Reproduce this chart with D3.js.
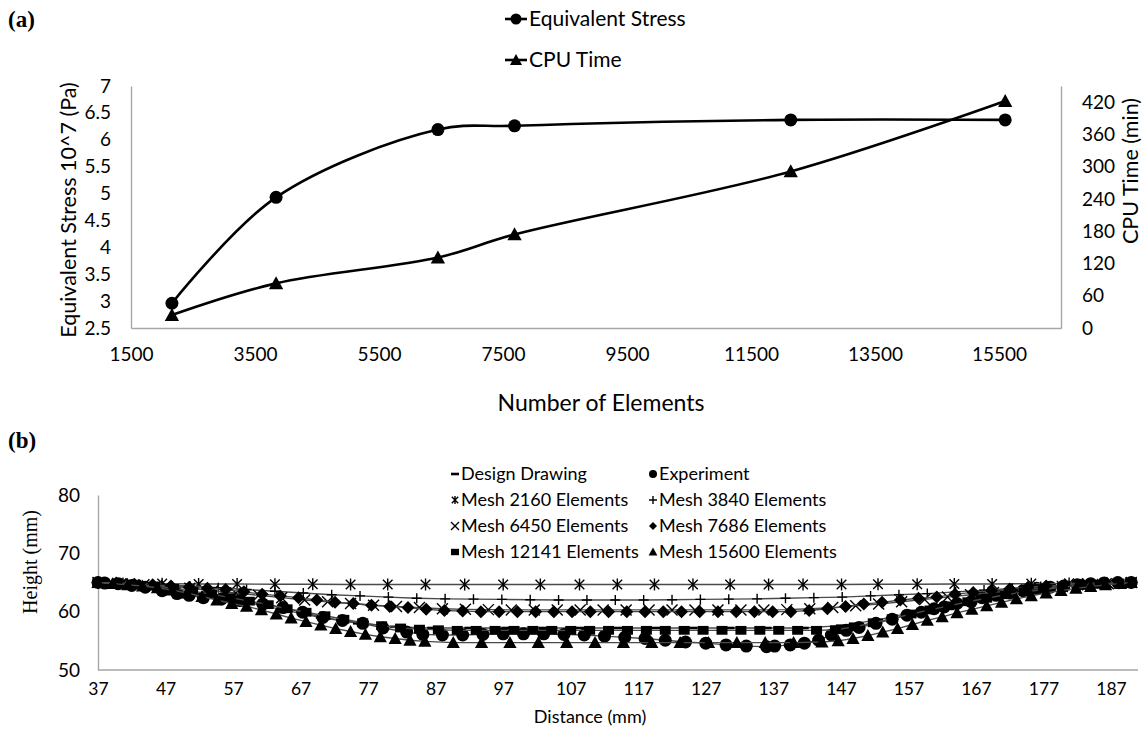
<!DOCTYPE html>
<html>
<head>
<meta charset="utf-8">
<script src="https://cdn.jsdelivr.net/npm/d3@7"></script>
<style>
  body { margin: 0; background: #fff; }
  svg text { font-family: Lato, "Open Sans", sans-serif; fill: #000; }
</style>
</head>
<body>
<svg id="chart" width="1143" height="732"></svg>
<script>
// ---------- Panel (a): mesh convergence ----------
const elements = [2160, 3840, 6450, 7686, 12141, 15600];
const stress = [2.96, 4.93, 6.19, 6.26, 6.37, 6.37];      // x 10^7 Pa
const cpuTime = [24, 83, 131, 174, 291, 422];             // minutes
const stressTicks = [2.5, 3, 3.5, 4, 4.5, 5, 5.5, 6, 6.5, 7];
const cpuTicks = [0, 60, 120, 180, 240, 300, 360, 420];
const elementTicks = [1500, 3500, 5500, 7500, 9500, 11500, 13500, 15500];

// ---------- Panel (b): height profiles along the part ----------
const distanceTicks = [37, 47, 57, 67, 77, 87, 97, 107, 117, 127, 137, 147, 157, 167, 177, 187];
const heightTicks = [50, 60, 70, 80];

const designDrawing = [[37,65],[42.5,64.6],[48,63.8],[53.5,62.8],[59,61.6],[64.5,60.3],[70,59],[75.5,58],[81,57.4],[86.5,57.2],[92,57.2],[97.5,57.2],[103,57.2],[108.5,57.2],[114,57.2],[119.5,57.2],[125,57.2],[130.5,57.2],[136,57.2],[141.5,57.2],[147,57.6],[152.5,58.6],[158,60],[163.5,61.3],[169,62.5],[174.5,63.5],[180,64.2],[185.5,64.7],[190,65]];

const experiment = [[37,65],[38,64.9],[40,64.8],[42,64.5],[44,64.2],[46.5,63.6],[48.7,63.1],[50.5,62.8],[52.6,62.4],[55.3,62.2],[58,61.9],[61.4,61.3],[64.4,60.7],[67.3,59.9],[70.3,59],[73.2,58.5],[76.2,58],[79.2,57.2],[82.7,56.5],[85.1,56.1],[88,56],[91,56],[94,56.1],[97,56.2],[100,56.2],[103,56.2],[106,56.1],[109,56],[112,55.8],[115,55.6],[118,55.4],[121,55.1],[124,54.8],[127,54.6],[130,54.3],[133,54.1],[136,54],[137.2,54.1],[139.5,54.3],[141.6,54.6],[143.7,55.1],[145.6,56],[147.8,56.8],[149.7,57.3],[152.2,58],[154.6,58.7],[156.8,59.4],[158.9,59.9],[160.8,60.5],[162.3,60.8],[164.2,61.4],[166.3,61.7],[167.9,62.4],[170,62.8],[172,63.2],[174,63.6],[176,64],[178,64.2],[180,64.4],[182,64.6],[184,64.8],[186,64.9],[188,65],[190,65]];

const mesh2160 = [[37,65],[40.7,64.85],[46.5,64.8],[51.9,64.75],[57.6,64.75],[63.2,64.7],[68.8,64.7],[74.4,64.65],[79.9,64.65],[85.5,64.65],[91.3,64.65],[97,64.65],[102.5,64.65],[108.3,64.65],[113.9,64.65],[119.4,64.65],[125.1,64.65],[130.6,64.65],[136.3,64.65],[141.4,64.65],[147.1,64.65],[152.5,64.7],[158.3,64.7],[163.8,64.75],[169.4,64.75],[175.2,64.8],[180.8,64.85],[186.4,64.9],[190,65]];

const mesh3840 = [[37,65],[42.2,64.8],[46.4,64.6],[50.6,64.4],[54.8,64.1],[59,63.8],[63.2,63.5],[67.4,63.2],[71.6,62.9],[75.8,62.7],[80,62.5],[84.2,62.3],[88.4,62.2],[92.6,62.15],[96.8,62.1],[101,62.05],[105.2,62],[109.4,62],[113.6,62],[117.8,62],[122,62.05],[126.2,62.1],[130.4,62.15],[134.6,62.2],[138.8,62.3],[143,62.4],[147.2,62.5],[151.4,62.7],[155.6,62.9],[159.8,63.1],[164,63.4],[168.2,63.7],[172.4,64],[176.6,64.3],[180.8,64.5],[185,64.8],[189.2,65]];

const mesh6450 = [[37,65],[40.4,64.8],[43.8,64.6],[47.2,64.3],[50.6,64],[54,63.6],[57.4,63.2],[60.8,62.8],[64.2,62.4],[67.6,62],[71,61.7],[74.4,61.4],[77.8,61.1],[81.2,60.9],[84.6,60.7],[88,60.5],[91.4,60.4],[94.8,60.35],[98.2,60.3],[101.6,60.3],[105,60.3],[108.4,60.3],[111.8,60.3],[115.2,60.3],[118.6,60.3],[122,60.3],[125.4,60.3],[128.8,60.3],[132.2,60.3],[135.6,60.3],[139,60.35],[142.4,60.5],[145.8,60.7],[149.2,61],[152.6,61.3],[156,61.7],[159.4,62.1],[162.8,62.5],[166.2,62.9],[169.6,63.3],[173,63.7],[176.4,64],[179.8,64.3],[183.2,64.6],[186.6,64.8],[190,65]];

const mesh7686 = [[37,65],[39.7,64.9],[42.4,64.7],[45.1,64.6],[47.8,64.4],[50.5,64.2],[53.2,64],[55.9,63.8],[58.6,63.4],[61.3,63],[64,62.7],[66.7,62.4],[69.4,62],[72.1,61.6],[74.8,61.4],[77.5,61.1],[80.2,60.9],[82.9,60.7],[85.6,60.4],[88.3,60.2],[91,60.1],[93.7,60],[96.4,60],[99.1,60],[101.8,60],[104.5,60],[107.2,60],[109.9,60],[112.6,60],[115.3,60],[118,60],[120.7,60],[123.4,60],[126.1,60],[128.8,60],[131.5,60],[134.2,60],[136.9,60],[139.6,60],[142.3,60.2],[145,60.5],[147.7,60.9],[150.4,61.3],[153.1,61.6],[155.8,62],[158.5,62.3],[161.2,62.5],[163.9,63],[166.6,63.3],[169.3,63.6],[172,63.9],[174.7,64.2],[177.4,64.4],[180.1,64.5],[182.8,64.7],[185.5,64.8],[188.2,64.9],[190,65]];

const mesh12141 = [[37,65],[39.8,64.9],[42.6,64.7],[45.4,64.4],[48.2,64],[51,63.5],[53.8,63],[56.6,62.4],[59.4,61.8],[62.2,61.2],[65,60.5],[67.8,59.9],[70.6,59.3],[73.4,58.7],[76.2,58.1],[79,57.6],[81.8,57.2],[84.6,57],[87.4,56.9],[90.2,56.8],[93,56.8],[95.8,56.8],[98.6,56.8],[101.4,56.8],[104.2,56.8],[107,56.8],[109.8,56.8],[112.6,56.8],[115.4,56.8],[118.2,56.8],[121,56.8],[123.8,56.8],[126.6,56.8],[129.4,56.8],[132.2,56.8],[135,56.8],[137.8,56.8],[140.6,56.8],[143.4,56.8],[146.2,56.9],[149,57.4],[151.8,58.1],[154.6,58.8],[157.4,59.6],[160.2,60.3],[163,61],[165.8,61.7],[168.6,62.3],[171.4,62.9],[174.2,63.4],[177,63.8],[179.8,64.2],[182.6,64.5],[185.4,64.7],[188.2,64.9],[190,65]];

const mesh15600 = [[37,65],[39.2,64.8],[41.4,64.6],[43.6,64.4],[45.8,64.1],[48,63.7],[50.2,63.2],[52.4,62.6],[54.6,62],[56.8,61.4],[59,60.9],[61.2,60.3],[63.4,59.6],[65.6,58.9],[67.8,58.3],[70,57.7],[72.2,57.1],[74.4,56.6],[76.6,56.1],[78.8,55.7],[81,55.4],[83.2,55.1],[85.4,54.9],[89.6,54.7],[93.8,54.7],[98,54.7],[102.2,54.7],[106.4,54.7],[110.6,54.7],[114.8,54.7],[119,54.7],[123.2,54.7],[127.4,54.7],[131.6,54.7],[135.8,54.7],[140,54.7],[144.2,54.8],[146.6,55],[148.8,55.4],[151,55.9],[153.2,56.5],[155.4,57.1],[157.6,57.8],[159.8,58.5],[162,59.1],[164.2,59.8],[166.4,60.4],[168.6,61],[170.8,61.6],[173,62.2],[175.2,62.7],[177.4,63.2],[179.6,63.6],[181.8,64],[184,64.3],[186.2,64.6],[188.4,64.8],[190,65]];

// ---------- marker shapes ----------
const markers = {
  dash: s => `M${-s/2},0H${s/2}`,
  circle: s => d3.symbol(d3.symbolCircle, Math.PI * (s/2) * (s/2))(),
  star: s => { const h = s/2, d = h * 0.8; return `M0,${-h}V${h}M${-d},${-d}L${d},${d}M${-d},${d}L${d},${-d}`; },
  plus: s => `M${-s/2},0H${s/2}M0,${-s/2}V${s/2}`,
  cross: s => { const d = s/2; return `M${-d},${-d}L${d},${d}M${-d},${d}L${d},${-d}`; },
  diamond: s => `M0,${-s/2}L${s/2},0L0,${s/2}L${-s/2},0Z`,
  square: s => `M${-s/2},${-s*0.4}H${s/2}V${s*0.4}H${-s/2}Z`,
  triangle: s => `M0,${-s*0.55}L${s*0.55},${s*0.45}L${-s*0.55},${s*0.45}Z`
};
const stroked = new Set(["dash", "star", "plus", "cross"]);

function drawMarker(g, kind, size, x, y) {
  const p = g.append("path").attr("d", markers[kind](size))
    .attr("transform", `translate(${x},${y})`);
  if (stroked.has(kind)) {
    p.attr("fill", "none").attr("stroke", "#000")
     .attr("stroke-width", kind === "dash" ? 2.6 : 1.4);
  } else {
    p.attr("fill", "#000").attr("stroke", "none");
  }
  return p;
}

const svg = d3.select("#chart");
const axisGrey = "#a6a6a6";

function styleAxis(g) {
  g.select(".domain").attr("stroke", axisGrey).attr("stroke-width", 1.4);
  g.selectAll(".tick line").remove();
}

// ================= Panel (a) =================
const xA = d3.scaleLinear().domain([1500, 16500]).range([131, 1061]);
const yStress = d3.scaleLinear().domain([2.5, 7]).range([328, 86]);
const yCpu = d3.scaleLinear().domain([0, 450]).range([328, 86]);

svg.append("text").text("(a)").attr("x", 8).attr("y", 27)
  .style("font-family", "'Liberation Serif', 'Times New Roman', serif")
  .style("font-weight", "bold").style("font-size", "23px");

const gA = svg.append("g");

gA.append("g").attr("transform", "translate(131,0)")
  .call(d3.axisLeft(yStress).tickValues(stressTicks).tickSize(0).tickSizeOuter(0).tickPadding(20).tickFormat(d3.format("")))
  .call(styleAxis)
  .selectAll("text").style("font-size", "19px").style("font-family", "Lato, sans-serif");

gA.append("g").attr("transform", "translate(1061,0)")
  .call(d3.axisRight(yCpu).tickValues(cpuTicks).tickSize(0).tickSizeOuter(0).tickPadding(21))
  .call(styleAxis)
  .selectAll("text").style("font-size", "19px").style("font-family", "Lato, sans-serif");

gA.append("g").attr("transform", "translate(0,328)")
  .call(d3.axisBottom(xA).tickValues(elementTicks).tickSize(0).tickSizeOuter(0).tickPadding(20).tickFormat(d3.format("d")))
  .call(styleAxis)
  .selectAll("text").style("font-size", "19px").style("font-family", "Lato, sans-serif");

gA.append("text").text("Equivalent Stress 10^7 (Pa)")
  .attr("transform", "translate(68,210) rotate(-90)")
  .attr("text-anchor", "middle").attr("dy", "0.35em").style("font-size", "21.5px");

gA.append("text").text("CPU Time (min)")
  .attr("transform", "translate(1130,171) rotate(-90)")
  .attr("text-anchor", "middle").attr("dy", "0.35em").style("font-size", "21.5px");

gA.append("text").text("Number of Elements")
  .attr("x", 601).attr("y", 403).attr("text-anchor", "middle").attr("dy", "0.35em")
  .style("font-size", "23px");

const smooth = d3.curveCatmullRom.alpha(0.5);
const stressPts = elements.map((e, i) => [xA(e), yStress(stress[i])]);
const cpuPts = elements.map((e, i) => [xA(e), yCpu(cpuTime[i])]);

gA.append("path").attr("d", d3.line().curve(smooth)(stressPts))
  .attr("fill", "none").attr("stroke", "#000").attr("stroke-width", 2.6);
gA.append("path").attr("d", d3.line().curve(smooth)(cpuPts))
  .attr("fill", "none").attr("stroke", "#000").attr("stroke-width", 2.6);
stressPts.forEach(p => drawMarker(gA, "circle", 13, p[0], p[1]));
cpuPts.forEach(p => drawMarker(gA, "triangle", 13, p[0], p[1]));

// legend (a)
const legA = [
  { label: "Equivalent Stress", kind: "circle", y: 19 },
  { label: "CPU Time", kind: "triangle", y: 60 }
];
legA.forEach(d => {
  gA.append("line").attr("x1", 505).attr("x2", 527).attr("y1", d.y).attr("y2", d.y)
    .attr("stroke", "#000").attr("stroke-width", 2.6);
  drawMarker(gA, d.kind, 11, 516, d.y);
  gA.append("text").text(d.label).attr("x", 529).attr("y", d.y).attr("dy", "0.35em")
    .style("font-size", "21px");
});

// ================= Panel (b) =================
const xB = d3.scaleLinear().domain([37, 191]).range([98, 1138]);
const yB = d3.scaleLinear().domain([50, 80]).range([670, 495]);

svg.append("text").text("(b)").attr("x", 8).attr("y", 448)
  .style("font-family", "'Liberation Serif', 'Times New Roman', serif")
  .style("font-weight", "bold").style("font-size", "23px");

const gB = svg.append("g");

gB.append("g").attr("transform", "translate(98,0)")
  .call(d3.axisLeft(yB).tickValues(heightTicks).tickSize(0).tickSizeOuter(0).tickPadding(18))
  .call(styleAxis)
  .selectAll("text").style("font-size", "19px").style("font-family", "Lato, sans-serif");

gB.append("g").attr("transform", "translate(0,670)")
  .call(d3.axisBottom(xB).tickValues(distanceTicks).tickSize(0).tickSizeOuter(0).tickPadding(13))
  .call(styleAxis)
  .call(g => g.select(".domain").attr("d", `M98,0H1138`))
  .selectAll("text").style("font-size", "17.5px").style("font-family", "Lato, sans-serif");

gB.append("text").text("Height (mm)")
  .attr("transform", "translate(30,562) rotate(-90)")
  .attr("text-anchor", "middle").attr("dy", "0.35em")
  .style("font-family", "'Liberation Serif', 'Times New Roman', serif").style("font-size", "20px");

gB.append("text").text("Distance (mm)")
  .attr("x", 590).attr("y", 717).attr("text-anchor", "middle").attr("dy", "0.35em")
  .style("font-size", "18px");

const profiles = [
  { label: "Design Drawing", data: designDrawing, kind: "dash", size: 10 },
  { label: "Experiment", data: experiment, kind: "circle", size: 13 },
  { label: "Mesh 2160 Elements", data: mesh2160, kind: "star", size: 12 },
  { label: "Mesh 3840 Elements", data: mesh3840, kind: "plus", size: 10 },
  { label: "Mesh 6450 Elements", data: mesh6450, kind: "cross", size: 11 },
  { label: "Mesh 7686 Elements", data: mesh7686, kind: "diamond", size: 13 },
  { label: "Mesh 12141 Elements", data: mesh12141, kind: "square", size: 11 },
  { label: "Mesh 15600 Elements", data: mesh15600, kind: "triangle", size: 12 }
];

const lineB = d3.line().x(d => xB(d[0])).y(d => yB(d[1]));
profiles.forEach(s => {
  const g = gB.append("g");
  g.append("path").attr("d", lineB(s.data))
    .attr("fill", "none").attr("stroke", "#4a4a4a").attr("stroke-width", 1.4);
  s.data.forEach(d => drawMarker(g, s.kind, s.size, xB(d[0]), yB(d[1])));
});

// legend (b): two columns, four rows
const legCols = [455, 653];
const legRows = [474, 500, 526, 552];
profiles.forEach((s, i) => {
  const cx = legCols[i % 2], cy = legRows[Math.floor(i / 2)];
  drawMarker(gB, s.kind, 8, cx, cy);
  gB.append("text").text(s.label).attr("x", cx + 6).attr("y", cy).attr("dy", "0.35em")
    .style("font-size", "18px");
});
</script>
</body>
</html>
